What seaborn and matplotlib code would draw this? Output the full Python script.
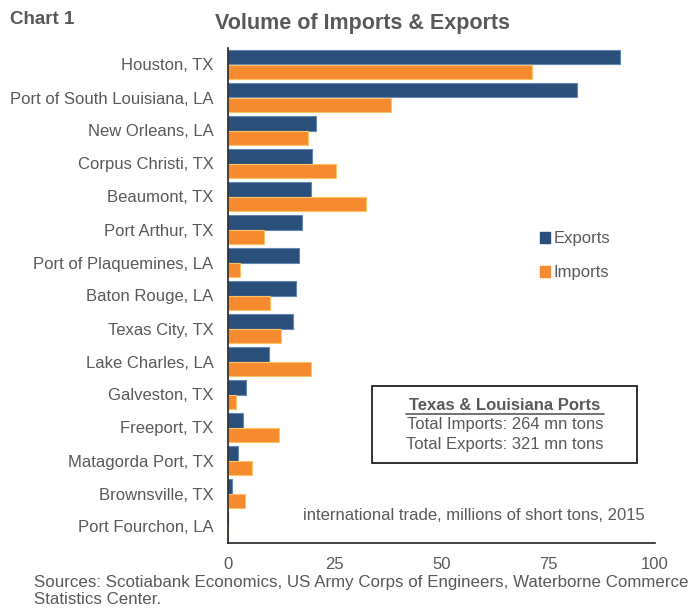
import matplotlib
matplotlib.use("Agg")
import matplotlib.pyplot as plt
import matplotlib.patches as mpatches
import seaborn as sns
import pandas as pd
import numpy as np

ports = ["Houston, TX", "Port of South Louisiana, LA", "New Orleans, LA", "Corpus Christi, TX",
         "Beaumont, TX", "Port Arthur, TX", "Port of Plaquemines, LA", "Baton Rouge, LA",
         "Texas City, TX", "Lake Charles, LA", "Galveston, TX", "Freeport, TX",
         "Matagorda Port, TX", "Brownsville, TX", "Port Fourchon, LA"]
exports = [91.9, 81.7, 20.7, 19.7, 19.4, 17.4, 16.7, 15.9, 15.2, 9.6, 4.1, 3.5, 2.4, 0.9, 0.0]
imports = [71.3, 38.2, 18.8, 25.4, 32.3, 8.5, 2.7, 9.8, 12.3, 19.4, 1.8, 11.9, 5.6, 3.9, 0.0]
series = ["Exports", "Imports"]
xticks = [0, 25, 50, 75, 100]

df = pd.DataFrame({
    "port": ports * 2,
    "series": [series[0]] * len(ports) + [series[1]] * len(ports),
    "value": exports + imports,
})

sns.set_theme(style="white")
plt.rcParams["font.family"] = ["Liberation Sans", "DejaVu Sans"]

navy = "#2A4F7B"
orange = "#F58A2F"
gray_text = "#595959"
FS = 12

fig = plt.figure(figsize=(6.9, 6.08), dpi=100)
ax = fig.add_axes([228 / 690, 1 - 543 / 608, 427 / 690, 495 / 608])

sns.barplot(data=df, y="port", x="value", hue="series", orient="h",
            palette=[navy, orange], order=ports, hue_order=series, saturation=1,
            width=0.86, gap=0, ax=ax, legend=False)

for p in ax.patches:
    fc = p.get_facecolor()
    light = tuple(min(1, c + 0.22) for c in fc[:3])
    p.set_edgecolor(light)
    p.set_linewidth(0.8)

ax.set_xlim(0, 100)
ax.set_ylim(len(ports) - 0.5, -0.5)
ax.set_xticks(xticks)
ax.set_xticklabels([str(t) for t in xticks], fontsize=FS, color=gray_text)
ax.set_yticks(range(len(ports)))
ax.set_yticklabels(ports, fontsize=FS, color=gray_text)
ax.set_xlabel("")
ax.set_ylabel("")
ax.tick_params(axis="y", length=0, pad=10.5)
ax.tick_params(axis="x", direction="in", length=5, width=0.8, color="#444444", pad=10)
ax.set_yticks(np.arange(-0.5, len(ports), 1.0), minor=True)
ax.tick_params(axis="y", which="minor", direction="in", length=4, width=1, color="#888888")
for s in ["top", "right"]:
    ax.spines[s].set_visible(False)
for s in ["left", "bottom"]:
    ax.spines[s].set_color("#222222")
    ax.spines[s].set_linewidth(1.2)

handles = [mpatches.Patch(color=navy, label="Exports"), mpatches.Patch(color=orange, label="Imports")]
leg = ax.legend(handles=handles, loc="center left", bbox_to_anchor=(0.695, 0.58), frameon=False,
                fontsize=FS, handlelength=0.6, handleheight=0.6, handletextpad=0.25,
                labelspacing=1.15)
for t in leg.get_texts():
    t.set_color(gray_text)

# text box
ax.add_patch(mpatches.Rectangle((372 / 690, 1 - 463 / 608), 265 / 690, 77 / 608,
                                transform=fig.transFigure, fill=False, edgecolor="#222222",
                                linewidth=1.3, zorder=5))
fig.text(505 / 690, 1 - 405 / 608, "Texas & Louisiana Ports", ha="center", va="center",
         fontsize=FS, fontweight="bold", color=gray_text)
fig.add_artist(plt.Line2D([406 / 690, 604 / 690], [1 - 413.5 / 608, 1 - 413.5 / 608],
                          transform=fig.transFigure, color=gray_text, linewidth=1.2))
fig.text(505 / 690, 1 - 425 / 608, "Total Imports: 264 mn tons", ha="center", va="center",
         fontsize=FS, color=gray_text)
fig.text(505 / 690, 1 - 444 / 608, "Total Exports: 321 mn tons", ha="center", va="center",
         fontsize=FS, color=gray_text)

fig.text(474 / 690, 1 - 516 / 608, "international trade, millions of short tons, 2015",
         ha="center", va="center", fontsize=FS, color=gray_text)

fig.text(10 / 690, 1 - 20 / 608, "Chart 1", ha="left", va="center", fontsize=13.5,
         fontweight="bold", color=gray_text)
fig.text(362 / 690, 1 - 23 / 608, "Volume of Imports & Exports", ha="center", va="center",
         fontsize=15.5, fontweight="bold", color=gray_text)

fig.text(34 / 690, 1 - 582 / 608, "Sources: Scotiabank Economics, US Army Corps of Engineers, Waterborne Commerce",
         ha="left", va="center", fontsize=12.2, color=gray_text)
fig.text(34 / 690, 1 - 600 / 608, "Statistics Center.", ha="left", va="center",
         fontsize=12.2, color=gray_text)

fig.savefig("out.png", dpi=100)
